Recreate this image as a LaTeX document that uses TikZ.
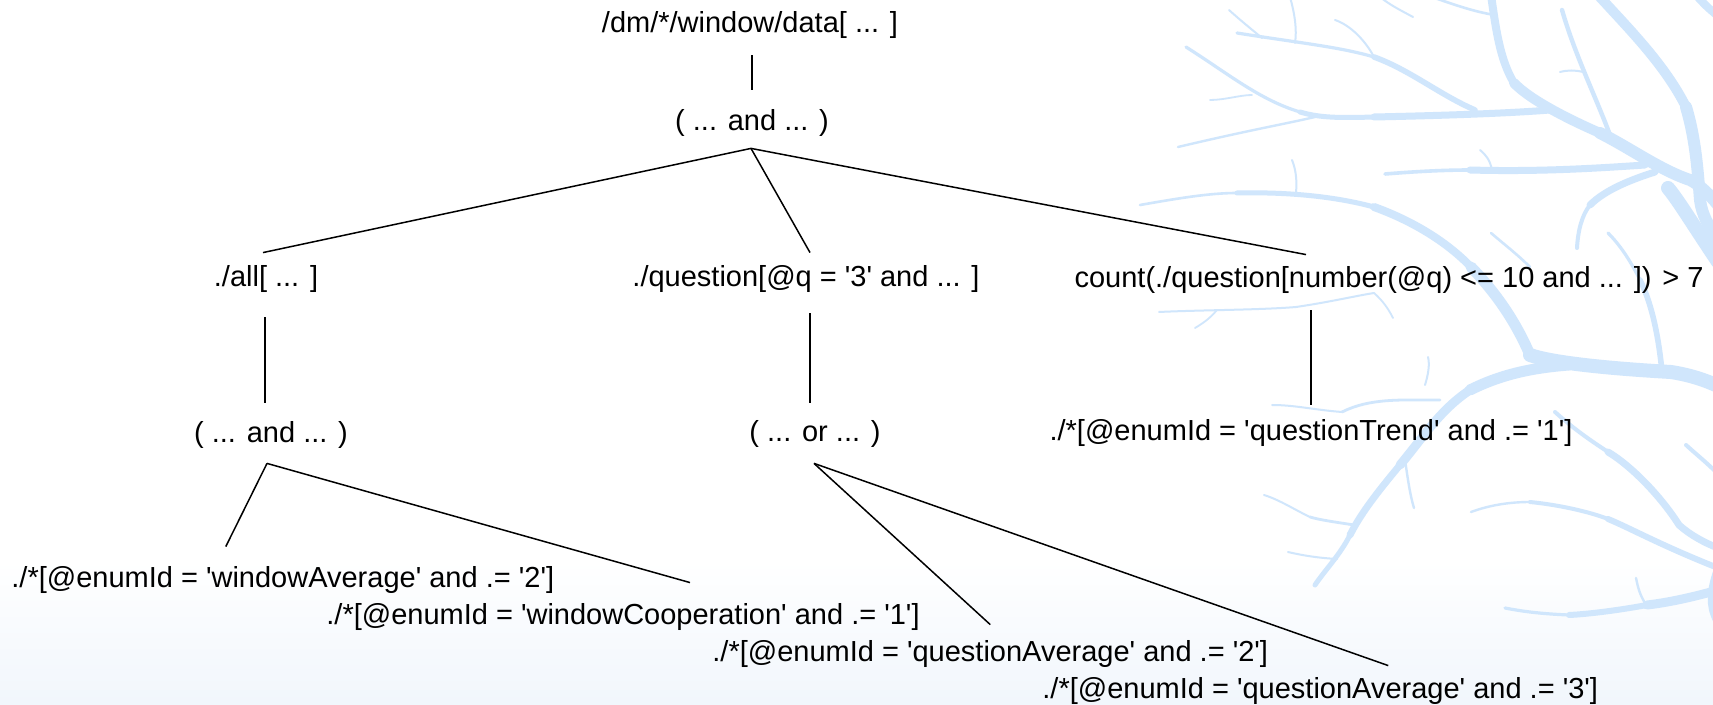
\documentclass[tikz,border=0pt]{standalone}
\usepackage{fontspec}
\setmainfont{Liberation Sans}
\usetikzlibrary{calc}
\definecolor{twig}{RGB}{208,230,252}
\definecolor{floorblue}{RGB}{241,246,252}
\newcommand\sqt{\textquotesingle}

\begin{document}
\begin{tikzpicture}[x=0.5pt,y=-0.5pt,
  lbl/.style={font=\fontsize{14.5}{17}\selectfont, inner sep=0pt, anchor=base},
  leaf/.style={lbl, anchor=base west},
  edge/.style={line width=0.75pt, draw=black},
  br/.style={draw=twig, line cap=round, line join=round}]

% canvas and soft floor
\useasboundingbox (0,0) rectangle (1713,705);
\fill[white] (0,0) rectangle (1713,705);
\shade[top color=white, bottom color=floorblue] (0,560) rectangle (1713,705);

% ---- bare tree in the background ----
\begin{scope}
\clip (0,0) rectangle (1713,705);
% limbs coming down from the top edge
\draw[br,line width=4pt] (1491,-5) .. controls (1496,30) and (1500,60) .. (1514,83);
\draw[br,line width=5pt] (1514,83) .. controls (1530,100) and (1570,120) .. (1600,133);
\draw[br,line width=6pt] (1600,133) .. controls (1630,148) and (1660,170) .. (1690,180)
  .. controls (1700,185) and (1710,195) .. (1718,205);
\draw[br,line width=5pt] (1598,-5) .. controls (1630,30) and (1665,65) .. (1686,107);
\draw[br,line width=6pt] (1686,107) .. controls (1696,140) and (1698,175) .. (1700,200)
  .. controls (1702,215) and (1708,225) .. (1718,240);
\draw[br,line width=4pt] (1696,-5) .. controls (1703,3) and (1709,9) .. (1718,16);
\draw[br,line width=2.2pt] (1562,10) .. controls (1575,55) and (1595,95) .. (1610,135);
\draw[br,line width=1pt] (1583,72) .. controls (1575,70) and (1568,70) .. (1560,72);
\draw[br,line width=1.3pt] (1432,-3) .. controls (1455,5) and (1475,12) .. (1495,15);
\draw[br,line width=1pt] (1413,17) .. controls (1400,10) and (1390,5) .. (1380,-3);
% horizontal limb meeting the first one
\draw[br,line width=3.5pt] (1550,110) .. controls (1500,114) and (1420,116) .. (1374,117);
\draw[br,line width=2.5pt] (1374,117) .. controls (1340,118) and (1320,118) .. (1300,112);
\draw[br,line width=1.6pt] (1300,112) .. controls (1260,100) and (1230,75) .. (1186,47);
\draw[br,line width=1.2pt] (1315,117) .. controls (1280,125) and (1250,130) .. (1178,147);
\draw[br,line width=0.9pt] (1252,95) .. controls (1240,95) and (1225,100) .. (1210,100);
% upper limb
\draw[br,line width=2.8pt] (1475,110) .. controls (1440,95) and (1410,70) .. (1374,57);
\draw[br,line width=1.6pt] (1374,57) .. controls (1340,47) and (1300,43) .. (1237,33);
\draw[br,line width=1pt] (1295,43) .. controls (1297,30) and (1295,15) .. (1290,-3);
\draw[br,line width=1pt] (1229,10) .. controls (1240,20) and (1250,28) .. (1262,38);
\draw[br,line width=1pt] (1374,57) .. controls (1365,40) and (1350,25) .. (1335,20);
% limb at mid height
\draw[br,line width=3.5pt] (1645,165) .. controls (1600,168) and (1540,172) .. (1470,170);
\draw[br,line width=1.8pt] (1470,170) .. controls (1440,170) and (1410,172) .. (1385,174);
\draw[br,line width=1pt] (1492,170) .. controls (1490,160) and (1486,155) .. (1480,150);
% long limb sweeping down towards the trunk
\draw[br,line width=1.3pt] (1140,205) .. controls (1180,198) and (1210,193) .. (1237,193);
\draw[br,line width=2.5pt] (1237,193) .. controls (1280,192) and (1330,195) .. (1374,207);
\draw[br,line width=4pt] (1374,207) .. controls (1410,220) and (1445,240) .. (1471,267);
\draw[br,line width=5.5pt] (1471,267) .. controls (1495,292) and (1515,320) .. (1530,355);
\draw[br,line width=1pt] (1296,193) .. controls (1297,180) and (1296,170) .. (1292,160);
% branch falling from the upper junction
\draw[br,line width=3.5pt] (1655,172) .. controls (1630,180) and (1605,190) .. (1590,205);
\draw[br,line width=2pt] (1590,205) .. controls (1582,215) and (1578,230) .. (1577,248);
\draw[br,line width=7pt] (1668,188) .. controls (1678,200) and (1690,220) .. (1718,262);
% main trunk
\draw[br,line width=7pt] (1530,355) .. controls (1550,362) and (1600,368) .. (1671,372)
  .. controls (1690,375) and (1705,380) .. (1718,386);
\draw[br,line width=5.5pt] (1569,365) .. controls (1530,368) and (1500,375) .. (1470,390);
\draw[br,line width=4.5pt] (1470,390) .. controls (1440,410) and (1425,435) .. (1400,465);
\draw[br,line width=3.5pt] (1400,465) .. controls (1375,495) and (1360,515) .. (1350,535);
\draw[br,line width=2.5pt] (1350,535) .. controls (1340,555) and (1325,570) .. (1315,585);
\draw[br,line width=2.8pt] (1662,372) .. controls (1658,330) and (1650,300) .. (1640,280);
\draw[br,line width=1.6pt] (1640,280) .. controls (1630,260) and (1620,245) .. (1608,233);
\draw[br,line width=1.3pt] (1491,233) .. controls (1505,245) and (1518,255) .. (1530,267);
% twigs off the falling limb
\draw[br,line width=1.4pt] (1440,400) .. controls (1400,400) and (1370,398) .. (1342,412);
\draw[br,line width=1pt] (1342,412) .. controls (1315,410) and (1295,405) .. (1272,405);
\draw[br,line width=1.4pt] (1354,525) .. controls (1335,522) and (1320,520) .. (1310,517);
\draw[br,line width=1pt] (1310,517) .. controls (1295,510) and (1280,500) .. (1264,495);
\draw[br,line width=1pt] (1337,559) .. controls (1320,558) and (1305,556) .. (1288,552);
\draw[br,line width=1.2pt] (1405,460) .. controls (1408,480) and (1410,495) .. (1414,508);
\draw[br,line width=1pt] (1425,385) .. controls (1428,375) and (1430,365) .. (1428,357);
% limbs to the lower right
\draw[br,line width=2pt] (1555,412) .. controls (1575,430) and (1590,440) .. (1608,452);
\draw[br,line width=3.5pt] (1608,452) .. controls (1630,465) and (1660,495) .. (1679,525)
  .. controls (1690,535) and (1705,543) .. (1718,548);
\draw[br,line width=1.2pt] (1471,512) .. controls (1490,505) and (1510,502) .. (1530,502);
\draw[br,line width=2pt] (1530,502) .. controls (1560,505) and (1590,512) .. (1608,519);
\draw[br,line width=3pt] (1608,519) .. controls (1630,528) and (1660,545) .. (1718,568);
\draw[br,line width=2pt] (1686,445) .. controls (1697,455) and (1706,462) .. (1718,474);
% lowest limb
\draw[br,line width=4.5pt] (1718,590) .. controls (1690,598) and (1665,603) .. (1647,605);
\draw[br,line width=3pt] (1647,605) .. controls (1620,610) and (1590,614) .. (1569,615);
\draw[br,line width=1.6pt] (1569,615) .. controls (1545,614) and (1525,612) .. (1505,608);
\draw[br,line width=1.2pt] (1645,603) .. controls (1640,595) and (1638,588) .. (1636,578);
\draw[br,line width=5pt] (1718,572) .. controls (1712,590) and (1710,605) .. (1718,620);
% fine twigs beside the label
\draw[br,line width=1pt] (1159,312) .. controls (1200,310) and (1260,310) .. (1296,307)
  .. controls (1330,302) and (1355,296) .. (1374,293);
\draw[br,line width=0.9pt] (1374,293) .. controls (1382,300) and (1388,308) .. (1393,318);
\draw[br,line width=0.9pt] (1217,310) .. controls (1210,318) and (1205,322) .. (1195,328);
\end{scope}

% ---- expression tree ----
\node[lbl] (root) at (750,33) {/dm/*/window/data[ ... ]};
\node[lbl] (and1) at (752,131) {( ... and ... )};
\node[lbl] (all)  at (266,287) {./all[ ... ]};
\node[lbl] (qsel) at (806,287) {./question[@q = \sqt3\sqt{} and ... ]};
\node[lbl] (cnt)  at (1389,288) {count(./question[number(@q) <= 10 and ... ]) > 7};
\node[lbl] (and2) at (271,443) {( ... and ... )};
\node[lbl] (or)   at (815,442) {( ... or ... )};
\node[lbl] (trend) at (1311,441) {./*[@enumId = \sqt questionTrend\sqt{} and .= \sqt1\sqt]};
\node[leaf] (wavg) at (11,587)  {./*[@enumId = \sqt windowAverage\sqt{} and .= \sqt2\sqt]};
\node[leaf] (wcoop) at (326,624) {./*[@enumId = \sqt windowCooperation\sqt{} and .= \sqt1\sqt]};
\node[leaf] (qavgb) at (712,661) {./*[@enumId = \sqt questionAverage\sqt{} and .= \sqt2\sqt]};
\node[leaf] (qavgc) at (1042,698) {./*[@enumId = \sqt questionAverage\sqt{} and .= \sqt3\sqt]};

% connectors
\draw[edge] ($(root.south)+(2,16)$) -- ($(and1.north)+(0,-20)$);
\coordinate (apexA) at ($(and1.south)+(-1,11)$);
\draw[edge] (apexA) -- ($(all.north)+(-3,-13)$);
\draw[edge] (apexA) -- ($(qsel.north)+(4,-13)$);
\draw[edge] (apexA) -- ($(cnt.north)+(-83,-12)$);
\draw[edge] ($(all.south)+(-1,24)$) -- ($(and2.north)+(-6,-19)$);
\draw[edge] ($(qsel.south)+(4,20)$) -- ($(or.north)+(-5,-18)$);
\draw[edge] ($(cnt.south -| trend.north)+(0,16)$) -- ($(trend.north)+(0,-15)$);
\coordinate (apexB) at ($(and2.south)+(-4,14)$);
\draw[edge] (apexB) -- ($(wavg.north)+(-57,-19)$);
\draw[edge] (apexB) -- ($(wcoop.north)+(67,-20)$);
\coordinate (apexC) at ($(or.south)+(-1,15)$);
\draw[edge] (apexC) -- ($(qavgb.north)+(0,-15)$);
\draw[edge] (apexC) -- ($(qavgc.north)+(68,-11)$);
\end{tikzpicture}
\end{document}
